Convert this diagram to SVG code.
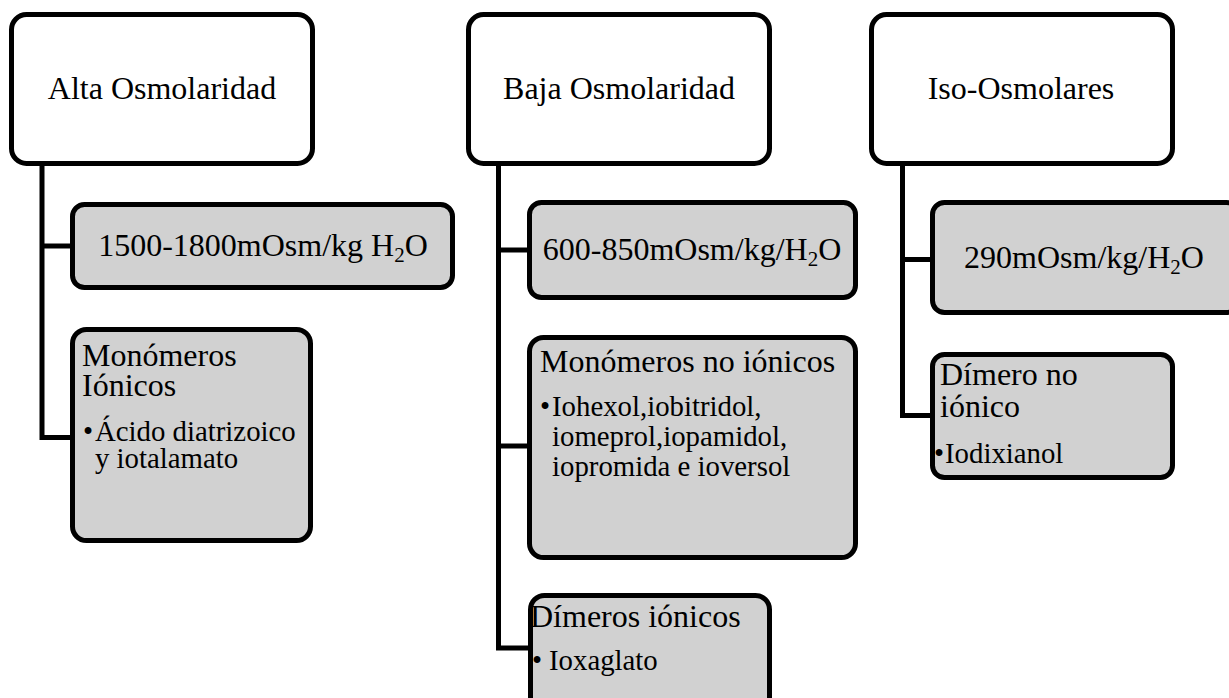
<svg xmlns="http://www.w3.org/2000/svg" width="1229" height="698" viewBox="0 0 1229 698">
<style>
.hdr{fill:#ffffff;stroke:#000;stroke-width:5}
.box{fill:#d1d1d1;stroke:#000;stroke-width:5}
.conn{fill:none;stroke:#000;stroke-width:5;stroke-linejoin:miter}
text{font-family:"Liberation Serif","Times New Roman",serif;fill:#000}
.t32{font-size:32px}
.t29{font-size:28.8px}
.mid{text-anchor:middle}
</style>
<rect width="1229" height="698" fill="#ffffff"/>
<g id="connectors">
<path class="conn" d="M42 164 V437.5 H72"/>
<path class="conn" d="M42 246 H72"/>
<path class="conn" d="M498.5 164 V648 H530"/>
<path class="conn" d="M498.5 250 H529"/>
<path class="conn" d="M498.5 446 H529"/>
<path class="conn" d="M902.5 164 V415.5 H932"/>
<path class="conn" d="M902.5 259.5 H932"/>
</g>
<g id="alta">
<rect class="hdr" x="11.5" y="14.5" width="301" height="149" rx="15"/>
<text class="t32 mid" x="162" y="99">Alta Osmolaridad</text>
</g>
<g id="baja">
<rect class="hdr" x="468.5" y="14.5" width="301" height="149" rx="15"/>
<text class="t32 mid" x="619" y="99">Baja Osmolaridad</text>
</g>
<g id="iso">
<rect class="hdr" x="871.5" y="14.5" width="301" height="149" rx="15"/>
<text class="t32 mid" x="1021" y="99">Iso-Osmolares</text>
</g>
<g id="alta-osm">
<rect class="box" x="72.5" y="204.5" width="380" height="83" rx="12"/>
<text class="t32 mid" x="263" y="256">1500-1800mOsm/kg H<tspan dy="6" font-size="21">2</tspan><tspan dy="-6">O</tspan></text>
</g>
<g id="alta-mono">
<rect class="box" x="72.5" y="329.5" width="238" height="211" rx="14"/>
<text class="t32"><tspan x="82" y="366">Monómeros</tspan><tspan x="82" y="396">Iónicos</tspan></text>
<text class="t29"><tspan x="83" y="441">•</tspan><tspan x="95" y="441">Ácido diatrizoico</tspan><tspan x="95" y="468">y iotalamato</tspan></text>
</g>
<g id="baja-osm">
<rect class="box" x="529.5" y="202.5" width="326" height="95" rx="12"/>
<text class="t32 mid" x="692" y="260">600-850mOsm/kg/H<tspan dy="6" font-size="21">2</tspan><tspan dy="-6">O</tspan></text>
</g>
<g id="baja-mono">
<rect class="box" x="529.5" y="337.5" width="326" height="220" rx="14"/>
<text class="t32" x="540" y="372">Monómeros no iónicos</text>
<text class="t29"><tspan x="540" y="416">•</tspan><tspan x="552" y="416">Iohexol,iobitridol,</tspan><tspan x="552" y="446">iomeprol,iopamidol,</tspan><tspan x="552" y="476">iopromida e ioversol</tspan></text>
</g>
<g id="baja-dim">
<rect class="box" x="530.5" y="595.5" width="239" height="130" rx="14"/>
<text class="t32" x="530" y="627">Dímeros iónicos</text>
<text class="t29" x="532" y="670">•<tspan x="549">Ioxaglato</tspan></text>
</g>
<g id="iso-osm">
<rect class="box" x="932.5" y="202.5" width="306" height="110" rx="12"/>
<text class="t32 mid" x="1084" y="268">290mOsm/kg/H<tspan dy="6" font-size="21">2</tspan><tspan dy="-6">O</tspan></text>
</g>
<g id="iso-dim">
<rect class="box" x="932.5" y="354.5" width="240" height="123" rx="12"/>
<text class="t32"><tspan x="940" y="385">Dímero no</tspan><tspan x="940" y="417">iónico</tspan></text>
<text class="t29" x="934" y="463">•<tspan x="945">Iodixianol</tspan></text>
</g>
</svg>
